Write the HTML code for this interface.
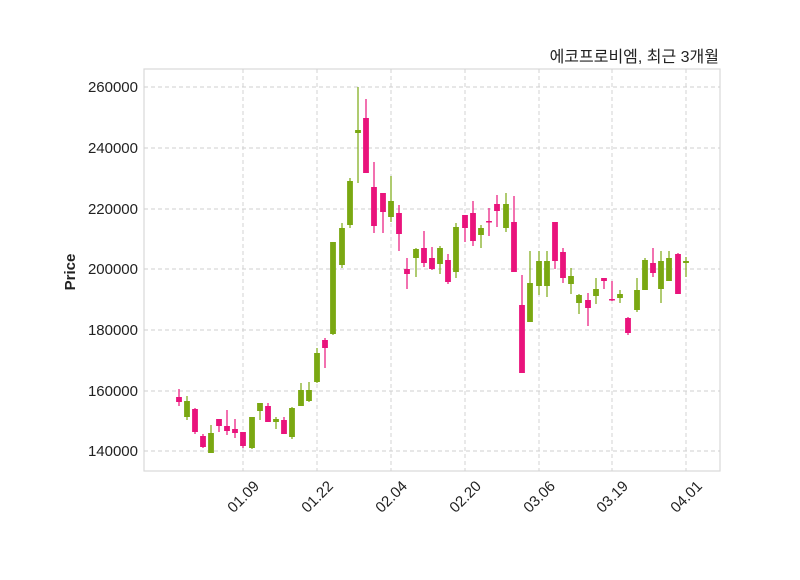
<!DOCTYPE html>
<html><head><meta charset="utf-8"><style>
body{margin:0;background:#fff;width:800px;height:575px;overflow:hidden}
svg text{font-family:"Liberation Sans","Noto Sans CJK KR",sans-serif;fill:#222}
</style></head><body>
<svg width="800" height="575" xmlns="http://www.w3.org/2000/svg">
<rect x="144" y="69" width="576" height="402" fill="#fff" stroke="#d9d9d9" stroke-width="1.2"/>
<g stroke="#cfcfcf" stroke-dasharray="4,3" stroke-width="0.9">
<line x1="144" x2="720" y1="87" y2="87"/><line x1="144" x2="720" y1="148" y2="148"/><line x1="144" x2="720" y1="209" y2="209"/><line x1="144" x2="720" y1="269" y2="269"/><line x1="144" x2="720" y1="330" y2="330"/><line x1="144" x2="720" y1="391" y2="391"/><line x1="144" x2="720" y1="451" y2="451"/>
<line y1="69" y2="471" x1="243" x2="243"/><line y1="69" y2="471" x1="317" x2="317"/><line y1="69" y2="471" x1="391" x2="391"/><line y1="69" y2="471" x1="465" x2="465"/><line y1="69" y2="471" x1="539" x2="539"/><line y1="69" y2="471" x1="612" x2="612"/><line y1="69" y2="471" x1="686" x2="686"/>
</g>
<g font-size="15" text-anchor="end">
<text x="138" y="92">260000</text><text x="138" y="153">240000</text><text x="138" y="214">220000</text><text x="138" y="274">200000</text><text x="138" y="335">180000</text><text x="138" y="396">160000</text><text x="138" y="456">140000</text>
</g>
<g font-size="15" text-anchor="end">
<text transform="translate(260,487) rotate(-45)">01.09</text>
<text transform="translate(334,487) rotate(-45)">01.22</text>
<text transform="translate(408,487) rotate(-45)">02.04</text>
<text transform="translate(482,487) rotate(-45)">02.20</text>
<text transform="translate(556,487) rotate(-45)">03.06</text>
<text transform="translate(629,487) rotate(-45)">03.19</text>
<text transform="translate(703,487) rotate(-45)">04.01</text>
</g>
<text x="75" y="272" font-size="15" font-weight="bold" text-anchor="middle" transform="rotate(-90,75,272)">Price</text>
<text x="719" y="62" font-size="16" text-anchor="end">에코프로비엠, 최근 3개월</text>
<g id="c"></g>
</svg>
<script>
var d=[[179,389,397,402,406,0],[187,396,401,417,420,1],[195,408,409,432,434,0],[203,434,436,447,448,0],[211,425,433,453,453,1],[219,419,419,426,432,0],[227,410,426,431,435,0],[235,419,429,433,438,0],[243,432,432,446,448,0],[252,417,417,448,449,1],[260,403,403,411,420,1],[268,403,406,422,422,0],[276,417,419,422,429,1],[284,417,420,434,434,0],[292,407,408,437,439,1],[301,383,390,406,406,1],[309,382,390,401,402,1],[317,348,353,382,383,1],[325,338,340,348,368,0],[333,242,242,334,335,1],[342,223,228,265,268,1],[350,178,181,225,228,1],[358,87,130,133,183,1],[366,99,118,173,173,0],[374,162,187,226,233,0],[383,193,193,212,233,0],[391,176,201,217,222,1],[399,205,213,234,251,0],[407,258,269,274,289,0],[416,248,249,258,277,1],[424,231,248,263,267,0],[432,247,258,269,270,0],[440,246,248,264,274,1],[448,254,260,282,284,0],[456,223,227,272,278,1],[465,215,215,228,242,0],[473,201,213,241,246,0],[481,225,228,235,248,1],[489,208,221,222,236,0],[497,195,204,211,227,0],[506,193,204,228,232,1],[514,196,222,272,272,0],[522,275,305,373,373,0],[530,251,283,322,322,1],[539,251,261,286,295,1],[547,251,261,286,297,1],[555,222,222,261,269,0],[563,248,252,278,283,0],[571,268,276,284,294,1],[579,294,295,303,314,1],[588,293,300,308,326,0],[596,278,289,296,304,1],[604,278,278,281,289,0],[612,281,299,300,301,0],[620,290,294,298,303,1],[628,317,318,333,335,0],[637,278,290,310,312,1],[645,258,260,290,290,1],[653,248,263,273,277,0],[661,251,261,289,303,1],[669,251,258,281,281,1],[678,253,254,294,294,0],[686,257,261,263,277,1]];
var s='';d.forEach(function(a){var c=a[5]?'#7aa812':'#e9137c';s+='<line x1="'+a[0]+'" x2="'+a[0]+'" y1="'+a[1]+'" y2="'+a[4]+'" stroke="'+c+'" stroke-width="1.2"/>';s+='<rect x="'+(a[0]-2.9)+'" y="'+a[2]+'" width="5.8" height="'+Math.max(1.5,a[3]-a[2])+'" fill="'+c+'"/>';});
var g=document.getElementById('c');g.innerHTML=s;
</script>
</body></html>
